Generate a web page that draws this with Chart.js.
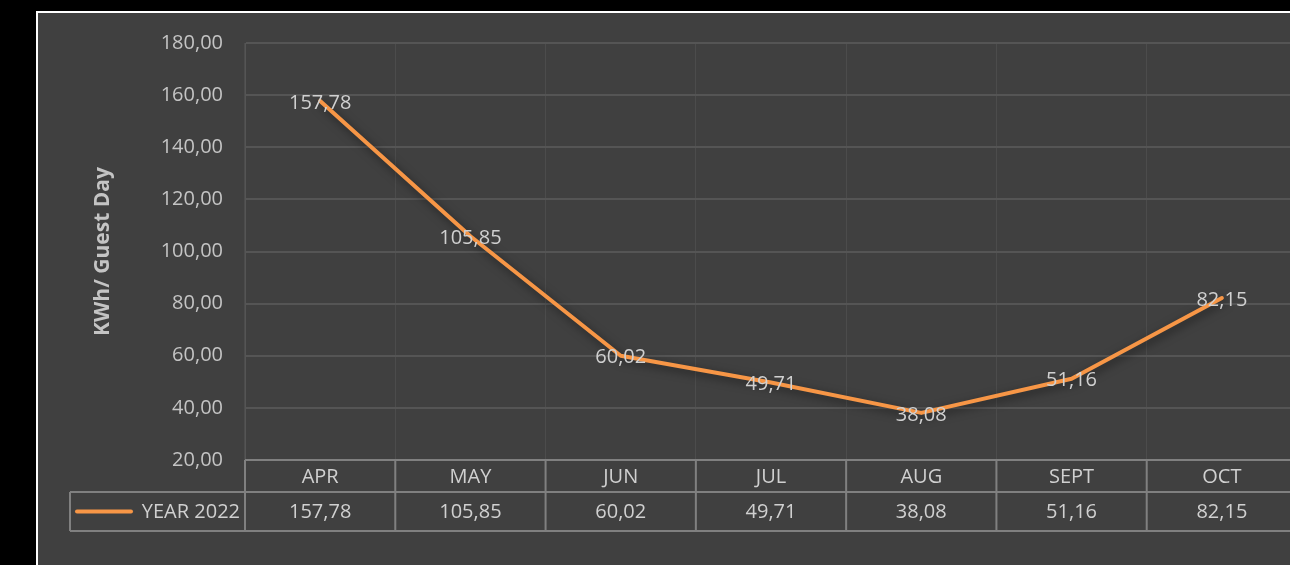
<!DOCTYPE html>
<html>
<head>
<meta charset="utf-8">
<script src="https://cdn.jsdelivr.net/npm/chart.js@4.4.0/dist/chart.umd.min.js"></script>
<style>
    html, body { margin: 0; padding: 0; background: #000; overflow: hidden; }
    #panel {
        position: absolute; left: 36px; top: 11px;
        width: 1272px; height: 556px;
        background: #404040;
        border-top: 2px solid #fff; border-left: 2px solid #fff;
    }
    #chart { display: block; }
</style>
</head>
<body>
<div id="panel"><canvas id="chart" width="1272" height="556"></canvas></div>
<script>
var meses = ["APR", "MAY", "JUN", "JUL", "AUG", "SEPT", "OCT"];
var consumo = [157.78, 105.85, 60.02, 49.71, 38.08, 51.16, 82.15];
var serie = "YEAR 2022";
var tituloEje = "KWh/ Guest Day";

var naranja = "#f79646";
var fuente = "'Open Sans', sans-serif";

function coma(v) {
    return v.toFixed(2).replace(".", ",");
}

// sombra suave bajo la linea
var sombra = {
    id: "sombra",
    beforeDatasetDraw: function (chart) {
        var ctx = chart.ctx;
        ctx.save();
        ctx.shadowColor = "rgba(0,0,0,0.55)";
        ctx.shadowBlur = 10;
        ctx.shadowOffsetX = 2;
        ctx.shadowOffsetY = 3;
    },
    afterDatasetDraw: function (chart) {
        chart.ctx.restore();
    }
};

// etiquetas de datos + tabla de datos bajo el grafico
var tabla = {
    id: "tabla",
    afterDatasetsDraw: function (chart) {
        var ctx = chart.ctx;
        var meta = chart.getDatasetMeta(0);
        ctx.save();
        ctx.font = "20px " + fuente;
        ctx.fillStyle = "#d0d0d0";
        ctx.textAlign = "center";
        ctx.textBaseline = "middle";
        meta.data.forEach(function (p, i) {
            ctx.fillText(coma(consumo[i]), p.x, p.y + 2);
        });
        ctx.restore();
    },
    afterDraw: function (chart) {
        var ctx = chart.ctx;
        var x = chart.scales.x;
        var area = chart.chartArea;
        var paso = x.getPixelForValue(1) - x.getPixelForValue(0);
        var y0 = area.bottom, y1 = area.bottom + 32, y2 = area.bottom + 71;
        var izq = 32;
        var der = x.getPixelForValue(meses.length - 1) + paso / 2;

        ctx.save();
        ctx.strokeStyle = "#808080";
        ctx.lineWidth = 2;
        ctx.beginPath();
        ctx.moveTo(area.left, y0); ctx.lineTo(der, y0);
        ctx.moveTo(izq, y1); ctx.lineTo(der, y1);
        ctx.moveTo(izq, y2); ctx.lineTo(der, y2);
        ctx.moveTo(izq, y1); ctx.lineTo(izq, y2);
        for (var i = 0; i <= meses.length; i++) {
            var cx = x.getPixelForValue(0) - paso / 2 + i * paso;
            ctx.moveTo(cx, y0); ctx.lineTo(cx, y2);
        }
        ctx.stroke();

        ctx.font = "20px " + fuente;
        ctx.fillStyle = "#d0d0d0";
        ctx.textAlign = "center";
        ctx.textBaseline = "middle";
        meses.forEach(function (m, i) {
            var cx = x.getPixelForValue(i);
            ctx.fillText(m, cx, (y0 + y1) / 2 + 1);
            ctx.fillText(coma(consumo[i]), cx, (y1 + y2) / 2 + 1);
        });

        // leyenda en la tabla
        ctx.strokeStyle = naranja;
        ctx.lineWidth = 4;
        ctx.lineCap = "round";
        ctx.beginPath();
        ctx.moveTo(39, (y1 + y2) / 2);
        ctx.lineTo(93, (y1 + y2) / 2);
        ctx.stroke();
        ctx.textAlign = "right";
        ctx.fillText(serie, area.left - 5, (y1 + y2) / 2 + 1);
        ctx.restore();
    }
};

new Chart(document.getElementById("chart"), {
    type: "line",
    data: {
        labels: meses,
        datasets: [{
            label: serie,
            data: consumo,
            borderColor: naranja,
            borderWidth: 4,
            pointRadius: 0,
            tension: 0,
            borderJoinStyle: "round",
            borderCapStyle: "round"
        }]
    },
    options: {
        responsive: false,
        animation: false,
        layout: { padding: { top: 30, bottom: 109, right: 13, left: 0 } },
        plugins: {
            legend: { display: false },
            tooltip: { enabled: false }
        },
        scales: {
            x: {
                offset: true,
                grid: { offset: true, color: "#4c4c4c", lineWidth: 1, drawTicks: false },
                border: { display: false },
                ticks: { display: false }
            },
            y: {
                min: 20,
                max: 180,
                afterFit: function (scale) {
                    scale.width = 207;
                    scale.paddingTop = 0;
                    scale.paddingBottom = 0;
                },
                ticks: {
                    stepSize: 20,
                    padding: 22,
                    color: "#c4c4c4",
                    font: { family: fuente, size: 20 },
                    callback: function (v) { return coma(v); }
                },
                grid: { color: "#555555", lineWidth: 2, drawTicks: false },
                border: { color: "#555555", width: 1 },
                title: {
                    display: true,
                    text: tituloEje,
                    color: "#c4c4c4",
                    font: { family: fuente, size: 21, weight: "bold" },
                    padding: { top: 52, bottom: 0 }
                }
            }
        }
    },
    plugins: [sombra, tabla]
});
</script>
</body>
</html>
